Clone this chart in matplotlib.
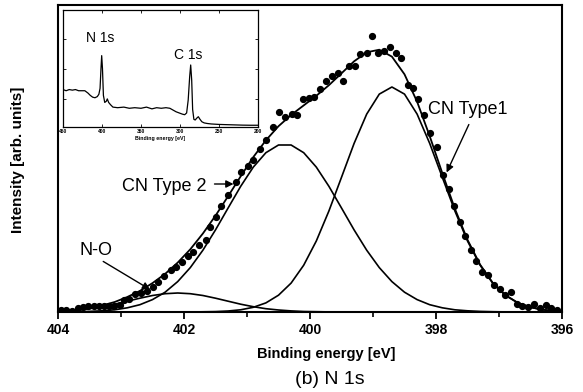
import matplotlib
matplotlib.use('Agg')
import numpy as np
import matplotlib.pyplot as plt

plt.rcParams['font.family'] = ['Liberation Sans', 'DejaVu Sans']

# fitted components (binding energy grid, eV)
fit_E = [395.9, 396.1, 396.3, 396.5, 396.7, 396.9, 397.1, 397.3, 397.5, 397.7,
         397.9, 398.1, 398.3, 398.5, 398.7, 398.9, 399.1, 399.3, 399.5, 399.7,
         399.9, 400.1, 400.3, 400.5, 400.7, 400.9, 401.1, 401.3, 401.5, 401.7,
         401.9, 402.1, 402.3, 402.5, 402.7, 402.9, 403.1, 403.3, 403.5, 403.7,
         403.9, 404.1]
cn_type1 = [0.4, 1.0, 2.2, 4.7, 9.1, 16.8, 28.9, 46.8, 71.0, 101.0,
            134.7, 168.6, 197.9, 217.9, 225.0, 217.9, 197.9, 168.6, 134.7, 101.0,
            71.0, 46.8, 28.9, 16.8, 9.1, 4.7, 2.2, 1.0, 0.4, 0.2,
            0, 0, 0, 0, 0, 0, 0, 0, 0, 0, 0, 0]
cn_type2 = [0, 0, 0, 0, 0.05, 0.1, 0.3, 0.6, 1.2, 2.2,
            4.2, 7.3, 12.4, 19.8, 30.4, 44.4, 61.8, 82.1, 104.0, 125.7,
            144.9, 159.3, 167.0, 167.0, 159.3, 144.9, 125.7, 104.0, 82.1, 61.8,
            44.4, 30.4, 19.8, 12.4, 7.3, 4.2, 2.2, 1.2, 0.6, 0.3, 0.1, 0.05]
n_o = [0, 0, 0, 0, 0, 0, 0, 0, 0, 0,
       0, 0, 0, 0, 0, 0, 0, 0, 0, 0.1,
       0.3, 0.5, 1.1, 2.0, 3.3, 5.3, 7.8, 10.8, 13.8, 16.5,
       18.3, 19.0, 18.3, 16.5, 13.8, 10.8, 7.8, 5.3, 3.3, 2.0, 1.1, 0.5]

# measured points
pts_E = [403.96, 403.87, 403.77, 403.68, 403.60, 403.52, 403.43, 403.35, 403.27, 403.19,
         403.11, 403.02, 402.95, 402.87, 402.77, 402.68, 402.58, 402.50, 402.42, 402.31,
         402.21, 402.13, 402.03, 401.94, 401.85, 401.76, 401.65, 401.58, 401.50, 401.41,
         401.30, 401.18, 401.09, 400.99, 400.90, 400.80, 400.70, 400.59, 400.49, 400.39,
         400.29, 400.21, 400.11, 400.02, 399.93, 399.84, 399.74, 399.65, 399.56, 399.47,
         399.38, 399.29, 399.20, 399.10, 399.01, 398.92, 398.82, 398.73, 398.63, 398.55,
         398.45, 398.37, 398.28, 398.19, 398.09, 397.99, 397.89, 397.80, 397.71, 397.62,
         397.54, 397.45, 397.36, 397.27, 397.17, 397.08, 396.99, 396.90, 396.81, 396.72,
         396.63, 396.54, 396.45, 396.35, 396.26, 396.17, 396.08]
pts_I = [2, 2, 1, 4, 5, 6, 6, 6, 6, 6,
         6, 7, 12, 13, 18, 19, 21, 25, 30, 36,
         42, 45, 50, 56, 60, 67, 72, 85, 95, 106,
         117, 130, 140, 146, 152, 163, 172, 185, 200, 195,
         198, 197, 213, 214, 215, 223, 231, 236, 239, 231,
         246, 246, 258, 259, 276, 259, 261, 265, 259, 254,
         227, 224, 213, 197, 179, 165, 137, 123, 106, 90,
         76, 62, 51, 40, 37, 27, 23, 17, 20, 8,
         6, 5, 8, 4, 7, 4, 2]

# survey spectrum for the inset
survey_E = [450, 446, 442, 438, 434, 430, 426, 422, 418, 415, 412, 409, 406, 404,
            402.5, 401.3, 400.4, 399.4, 398.2, 396.5, 394.5, 393.2, 391.5, 389, 386,
            380, 372, 365, 358, 350, 343, 336, 330, 324, 318, 313, 309, 305, 301,
            297, 294, 291.5, 289.5, 287.6, 286.3, 285.0, 283.8, 282.2, 280.5, 278.6,
            276.5, 274.4, 272, 269, 265, 260, 250, 240, 230, 220, 210, 200]
survey_I = [0.32, 0.31, 0.32, 0.315, 0.32, 0.31, 0.31, 0.31, 0.29, 0.27, 0.255, 0.25,
            0.26, 0.28, 0.33, 0.50, 0.61, 0.50, 0.27, 0.21, 0.22, 0.24, 0.21, 0.19,
            0.17, 0.165, 0.17, 0.16, 0.165, 0.16, 0.17, 0.155, 0.165, 0.16, 0.165,
            0.16, 0.145, 0.13, 0.12, 0.11, 0.105, 0.12, 0.23, 0.43, 0.53, 0.40, 0.15,
            0.065, 0.06, 0.075, 0.088, 0.066, 0.045, 0.035, 0.03, 0.026, 0.022, 0.02,
            0.018, 0.016, 0.015, 0.015]

envelope = np.array(cn_type1) + np.array(cn_type2) + np.array(n_o)

W, H = 583, 392
fig = plt.figure(figsize=(W / 100, H / 100), dpi=100)
ax = fig.add_axes([58 / W, 1 - 312 / H, (562 - 58) / W, (312 - 5) / H])

for comp in (cn_type1, cn_type2, n_o):
    ax.plot(fit_E, comp, color='k', lw=1.2)
ax.plot(fit_E, envelope, color='k', lw=1.3)
ax.plot(pts_E, pts_I, 'o', color='k', ms=4.2, zorder=3)

ax.set_xlim(404, 396)
ax.set_ylim(0, 307)
ax.set_xticks([404, 402, 400, 398, 396])
ax.set_xticks([403, 401, 399, 397], minor=True)
ax.set_yticks([])
ax.tick_params(axis='x', which='major', direction='out', length=5, width=1.3,
               labelsize=10, pad=3)
ax.tick_params(axis='x', which='minor', direction='out', length=3.5, width=1.2)
for lab in ax.get_xticklabels():
    lab.set_fontweight('bold')
for sp in ax.spines.values():
    sp.set_linewidth(1.5)

fig.text(326 / W, 1 - 354 / H, 'Binding energy [eV]', ha='center', va='center',
         fontsize=10.5, fontweight='bold')
fig.text(18 / W, 1 - 160 / H, 'Intensity [arb. units]', ha='center', va='center',
         rotation=90, fontsize=11, fontweight='bold')
fig.text(330 / W, 1 - 380 / H, '(b) N 1s', ha='center', va='center', fontsize=14)

# labels with arrows
arrow = dict(arrowstyle='-|>', color='k', lw=1.0, mutation_scale=11)
ax.text(398.12, 198, 'CN Type1', fontsize=13, ha='left', va='baseline')
ax.annotate('', xy=(397.85, 137), xytext=(397.46, 190), arrowprops=arrow)
ax.text(401.64, 121, 'CN Type 2', fontsize=13, ha='right', va='baseline')
ax.annotate('', xy=(401.17, 128), xytext=(401.56, 128), arrowprops=arrow)
ax.text(403.39, 57, 'N-O', fontsize=13, ha='center', va='baseline')
ax.annotate('', xy=(402.50, 21), xytext=(403.32, 52), arrowprops=arrow)

# inset survey
ins = fig.add_axes([63 / W, 1 - 127 / H, 195 / W, 117 / H])
ins.plot(survey_E, survey_I, color='k', lw=0.9)
ins.set_xlim(450, 200)
ins.set_ylim(0, 1)
ins.set_xticks([450, 400, 350, 300, 250, 200])
ins.set_yticks([0.24, 0.5, 0.75])
ins.set_yticklabels([])
ins.tick_params(direction='in', top=True, right=True, length=2.5, width=0.6,
                labelsize=3.5, pad=1.5)
for lab in ins.get_xticklabels():
    lab.set_fontweight('bold')
ins.set_xlabel('Binding energy [eV]', fontsize=3.8, fontweight='bold', labelpad=1.5)
for sp in ins.spines.values():
    sp.set_linewidth(0.9)
ins.text(402.6, 0.76, 'N 1s', fontsize=10, ha='center', va='center')
ins.text(289.7, 0.615, 'C 1s', fontsize=10, ha='center', va='center')

fig.savefig('out.png', dpi=100)
